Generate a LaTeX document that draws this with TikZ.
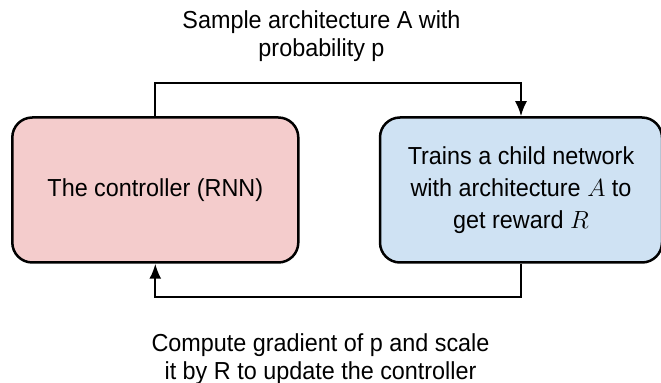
\documentclass[tikz,border=0pt]{standalone}
\usepackage{fontspec}
\setmainfont[FakeStretch=0.95]{Liberation Sans}
\usetikzlibrary{arrows.meta}
\definecolor{boxpink}{HTML}{F4CCCC}
\definecolor{boxblue}{HTML}{CFE2F3}
\begin{document}
\begin{tikzpicture}[>={Latex[length=15bp,width=12bp]},line join=miter,
  stagebox/.style={draw,rounded corners=20bp,line width=2.5bp,minimum height=145bp,align=center,
    font=\fontsize{24.7}{32}\selectfont},
  caption/.style={align=center,font=\fontsize{24.7}{28}\selectfont},
  loop/.style={->,line width=2bp},]
%%
\useasboundingbox (0,0) rectangle (661bp,383bp);
\clip (0,0) rectangle (661bp,383bp);
\node (ctrl) at (155.3bp,193bp) [stagebox,fill=boxpink,minimum width=286bp] {The controller (RNN)};
  \node (child) at (521bp,193bp) [stagebox,fill=boxblue,minimum width=282bp] {Trains a child network\\with architecture $A$ to\\get reward $R$};
  \node (sample) at (321.5bp,347bp) [caption] {Sample architecture A with\\probability p};
  \node (update) at (320.5bp,24bp) [caption] {Compute gradient of p and scale\\it by R to update the controller};
  \draw [loop] (ctrl.north) -- ++(0,33bp) -| (child.north);
  \draw [loop] (child.south) -- ++(0,-33bp) -| (ctrl.south);
%
\end{tikzpicture}
\end{document}
